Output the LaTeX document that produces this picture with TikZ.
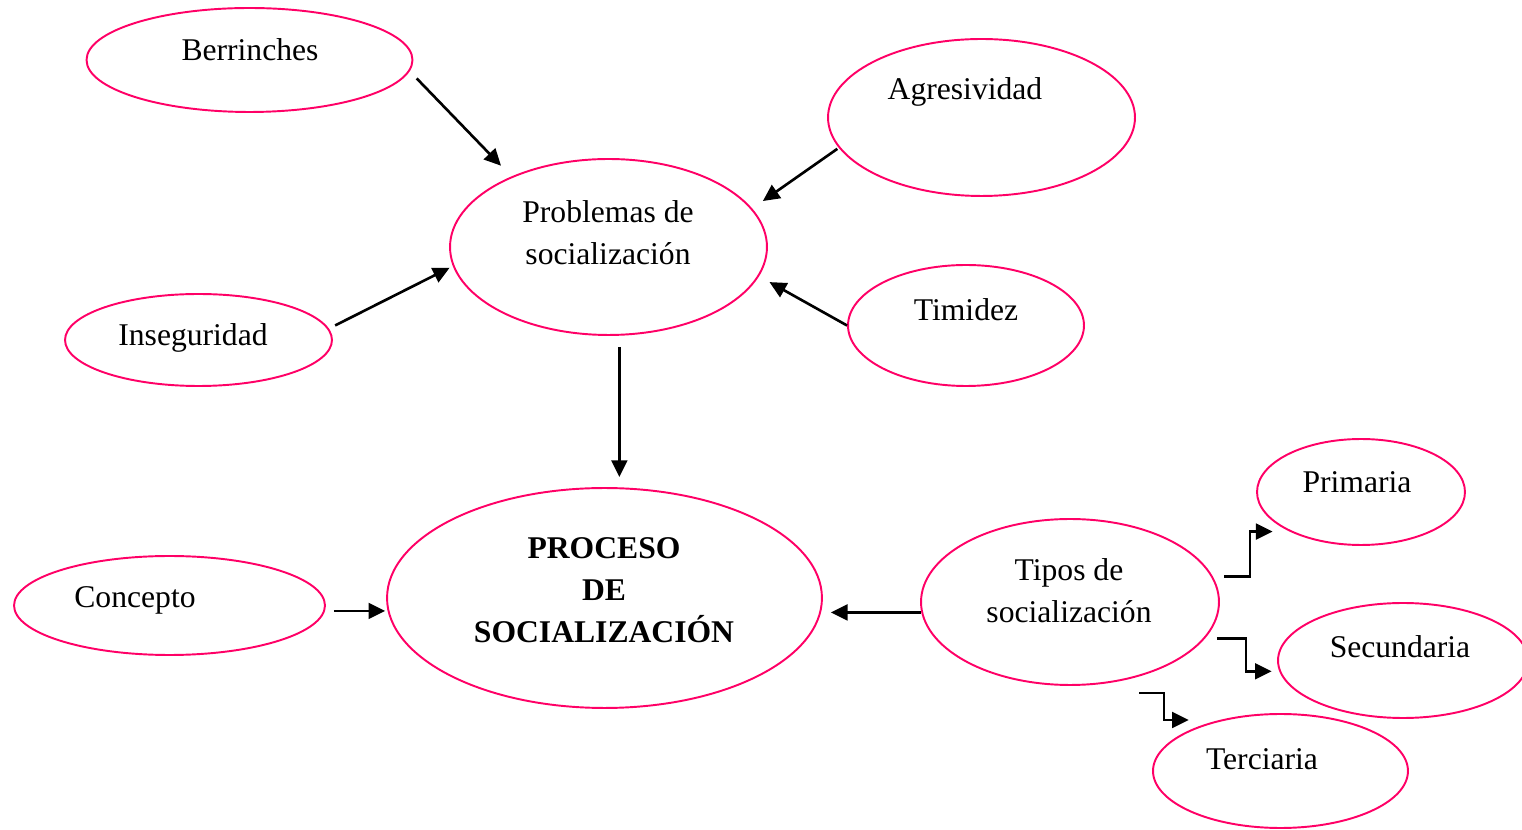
\documentclass[tikz,border=0pt]{standalone}
\usepackage{fontspec}
\setmainfont{Liberation Serif}
\usetikzlibrary{shapes.geometric,arrows.meta}
\definecolor{rosa}{RGB}{255,0,102}

\begin{document}
\begin{tikzpicture}[x=0.02cm,y=-0.02cm,
  font=\fontsize{18}{24}\selectfont,
  bubble/.style={ellipse,draw=rosa,line width=1.1pt,inner sep=0pt},
  lbl/.style={align=center,inner sep=0pt},
  arr/.style={line width=1.5pt,-{Triangle[length=9.5pt,width=9pt]}}]
\useasboundingbox (0,0) rectangle (1522,830);

\node[bubble,minimum width=6.52cm,minimum height=2.08cm] (ber) at (249.5,60) {};
\node[bubble,minimum width=6.14cm,minimum height=3.14cm] (agr) at (981.5,117.5) {};
\node[bubble,minimum width=6.34cm,minimum height=3.52cm] (pro) at (608.5,247) {};
\node[bubble,minimum width=5.34cm,minimum height=1.84cm] (ins) at (198.5,340) {};
\node[bubble,minimum width=4.72cm,minimum height=2.42cm] (tim) at (966,325.5) {};
\node[bubble,minimum width=8.70cm,minimum height=4.40cm] (proc) at (604.5,598) {};
\node[bubble,minimum width=6.22cm,minimum height=1.98cm] (con) at (169.5,605.5) {};
\node[bubble,minimum width=5.96cm,minimum height=3.32cm] (tip) at (1070,602) {};
\node[bubble,minimum width=4.16cm,minimum height=2.12cm] (pri) at (1361,492) {};
\node[bubble,minimum width=5.00cm,minimum height=2.30cm] (sec) at (1403,660.5) {};
\node[bubble,minimum width=5.10cm,minimum height=2.28cm] (ter) at (1280.5,771) {};

\node[lbl] (ber-t) at (250,50) {Berrinches};
\node[lbl] (agr-t) at (965,92) {Agresividad};
\node[lbl] (pro-t) at (608,233) {Problemas de\\socialización};
\node[lbl] (ins-t) at (193,338) {Inseguridad};
\node[lbl] (tim-t) at (966,310) {Timidez};
\node[lbl,font=\fontsize{18}{24}\selectfont\bfseries] (proc-t) at (604,590) {PROCESO\\DE\\SOCIALIZACIÓN};
\node[lbl] (con-t) at (135,600) {Concepto};
\node[lbl] (tip-t) at (1069,591) {Tipos de\\socialización};
\node[lbl] (pri-t) at (1357,482) {Primaria};
\node[lbl] (sec-t) at (1400,647) {Secundaria};
\node[lbl] (ter-t) at (1262,759) {Terciaria};

\draw[arr,shorten <=5.7pt,shorten >=8.5pt] (ber.-4.7) -- (pro.144.6);
\draw[arr,shorten <=1pt,shorten >=7.4pt] (agr.-168.5) -- (pro.15.7);
\draw[arr,shorten <=4pt,shorten >=2pt] (ins.5.8) -- (pro.-173.6);
\draw[arr,shorten >=6.8pt] (tim.180) -- (pro.-11.1);
\draw[arr,shorten <=6.3pt,shorten >=5.7pt] (pro.-83.5) -- (pro.-83.5 |- proc.north);
\draw[arr,shorten <=5pt,shorten >=0.5pt] (con.-2.2) -- (con.-2.2 -| proc.west);
\draw[arr,shorten >=4.5pt] (tip.-176.5) -- (tip.-176.5 -| proc.east);
\draw[arr,shorten <=6.3pt,shorten >=9.7pt] (tip.10) -- ++(37,0) |- (pri.-151);
\draw[arr,shorten <=6.6pt,shorten >=4.3pt] (tip.-15.5) -- ++(40.6,0) |- (sec.-175.8);
\draw[arr,shorten >=17.6pt] ([shift={(69,91)}]tip.center) -- ++(25,0) |- (ter.140.7);
\end{tikzpicture}
\end{document}
